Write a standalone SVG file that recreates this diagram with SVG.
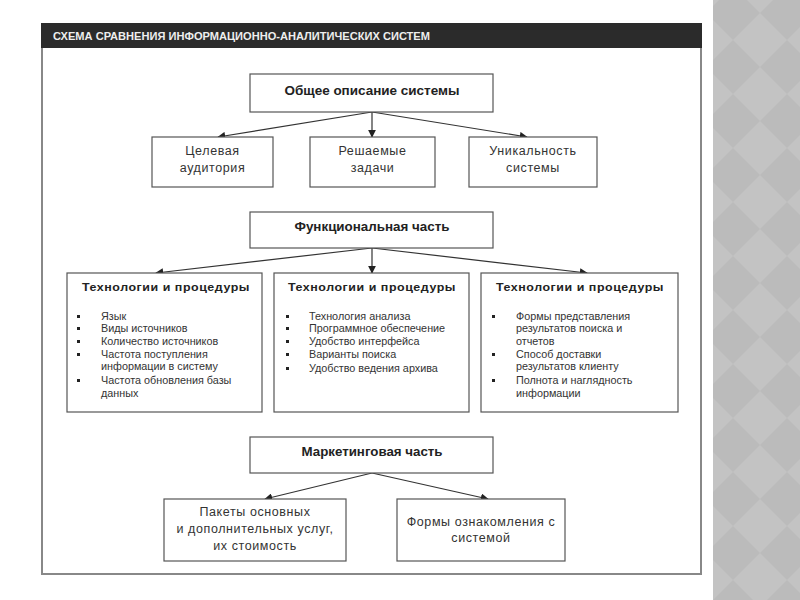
<svg xmlns="http://www.w3.org/2000/svg" width="800" height="600" viewBox="0 0 800 600">
<defs>
<pattern id="diam" x="706" y="-14" width="54" height="54" patternUnits="userSpaceOnUse">
<rect width="54" height="54" fill="#c3c3c3"/>
<polygon points="27,0 54,27 27,54 0,27" fill="#bbbbbb"/>
</pattern>
<marker id="ah" viewBox="0 0 10 10" refX="9" refY="5" markerWidth="8" markerHeight="8" markerUnits="userSpaceOnUse" orient="auto">
<path d="M0,0 L10,5 L0,10 z" fill="#222"/>
</marker>
<style>
.box{fill:#fff;stroke:#555;stroke-width:1.2}
.hd{font-family:"Liberation Sans",Arial,sans-serif;font-weight:bold;font-size:12px;fill:#222;text-anchor:middle}
.lb{font-family:"Liberation Sans",Arial,sans-serif;font-size:12.5px;fill:#333;text-anchor:middle;letter-spacing:0.6px}
.th{font-family:"Liberation Sans",Arial,sans-serif;font-weight:bold;font-size:11.5px;fill:#222;text-anchor:middle;letter-spacing:0.5px}
.it{font-family:"Liberation Sans",Arial,sans-serif;font-size:10.8px;fill:#333}
.bl{fill:#222}
.cn{stroke:#333;stroke-width:1.2;fill:none;marker-end:url(#ah)}
</style>
</defs>
<rect x="0" y="0" width="800" height="600" fill="#fff"/>
<rect x="713" y="0" width="87" height="600" fill="url(#diam)"/>
<g id="frame">
<rect x="42" y="24" width="659" height="550" fill="none" stroke="#888" stroke-width="2"/>
<rect x="41" y="23" width="661" height="25" fill="#2b2b2b"/>
<text x="53" y="40" font-family="'Liberation Sans',Arial,sans-serif" font-weight="bold" font-size="11.5" fill="#eee" textLength="377" lengthAdjust="spacingAndGlyphs">СХЕМА СРАВНЕНИЯ ИНФОРМАЦИОННО-АНАЛИТИЧЕСКИХ СИСТЕМ</text>
</g>
<g id="connectors">
<line class="cn" x1="372" y1="112" x2="218" y2="137"/>
<line class="cn" x1="372" y1="112" x2="372" y2="137"/>
<line class="cn" x1="372" y1="112" x2="527" y2="137"/>
<line class="cn" x1="372" y1="248" x2="156" y2="273"/>
<line class="cn" x1="372" y1="248" x2="372" y2="273"/>
<line class="cn" x1="372" y1="248" x2="587" y2="273"/>
<line class="cn" x1="372" y1="473" x2="265" y2="499"/>
<line class="cn" x1="372" y1="473" x2="488" y2="499"/>
</g>
<g id="general">
<rect class="box" x="250" y="74" width="243" height="38"/>
<text class="hd" x="372" y="95" textLength="175" lengthAdjust="spacingAndGlyphs">Общее описание системы</text>
</g>
<g id="audience">
<rect class="box" x="152" y="137" width="121" height="50"/>
<text class="lb" x="212.5" y="155">Целевая</text>
<text class="lb" x="212.5" y="172">аудитория</text>
</g>
<g id="tasks">
<rect class="box" x="310" y="137" width="125" height="50"/>
<text class="lb" x="372.5" y="155">Решаемые</text>
<text class="lb" x="372.5" y="172">задачи</text>
</g>
<g id="uniqueness">
<rect class="box" x="469" y="137" width="128" height="50"/>
<text class="lb" x="533" y="155">Уникальность</text>
<text class="lb" x="533" y="172">системы</text>
</g>
<g id="functional">
<rect class="box" x="250" y="212" width="243" height="36"/>
<text class="hd" x="372" y="231" textLength="155" lengthAdjust="spacingAndGlyphs">Функциональная часть</text>
</g>
<g id="tech1">
<rect class="box" x="67" y="273" width="195" height="139"/>
<text class="th" x="166" y="291" textLength="168" lengthAdjust="spacingAndGlyphs">Технологии и процедуры</text>
<rect class="bl" x="77" y="315" width="3" height="3"/>
<text class="it" x="101" y="320">Язык</text>
<rect class="bl" x="77" y="327" width="3" height="3"/>
<text class="it" x="101" y="332">Виды источников</text>
<rect class="bl" x="77" y="340" width="3" height="3"/>
<text class="it" x="101" y="345">Количество источников</text>
<rect class="bl" x="77" y="353" width="3" height="3"/>
<text class="it" x="101" y="358">Частота поступления</text>
<text class="it" x="101" y="370">информации в систему</text>
<rect class="bl" x="77" y="379" width="3" height="3"/>
<text class="it" x="101" y="384">Частота обновления базы</text>
<text class="it" x="101" y="397">данных</text>
</g>
<g id="tech2">
<rect class="box" x="274" y="273" width="195" height="139"/>
<text class="th" x="372" y="291" textLength="168" lengthAdjust="spacingAndGlyphs">Технологии и процедуры</text>
<rect class="bl" x="286" y="315" width="3" height="3"/>
<text class="it" x="309" y="320">Технология анализа</text>
<rect class="bl" x="286" y="327" width="3" height="3"/>
<text class="it" x="309" y="332">Программное обеспечение</text>
<rect class="bl" x="286" y="340" width="3" height="3"/>
<text class="it" x="309" y="345">Удобство интерфейса</text>
<rect class="bl" x="286" y="353" width="3" height="3"/>
<text class="it" x="309" y="358">Варианты поиска</text>
<rect class="bl" x="286" y="367" width="3" height="3"/>
<text class="it" x="309" y="372">Удобство ведения архива</text>
</g>
<g id="tech3">
<rect class="box" x="481" y="273" width="197" height="139"/>
<text class="th" x="580" y="291" textLength="168" lengthAdjust="spacingAndGlyphs">Технологии и процедуры</text>
<rect class="bl" x="492" y="315" width="3" height="3"/>
<text class="it" x="516" y="320">Формы представления</text>
<text class="it" x="516" y="332">результатов поиска и</text>
<text class="it" x="516" y="345">отчетов</text>
<rect class="bl" x="492" y="353" width="3" height="3"/>
<text class="it" x="516" y="358">Способ доставки</text>
<text class="it" x="516" y="370">результатов клиенту</text>
<rect class="bl" x="492" y="379" width="3" height="3"/>
<text class="it" x="516" y="384">Полнота и наглядность</text>
<text class="it" x="516" y="397">информации</text>
</g>
<g id="marketing">
<rect class="box" x="250" y="437" width="243" height="36"/>
<text class="hd" x="372" y="456" textLength="141" lengthAdjust="spacingAndGlyphs">Маркетинговая часть</text>
</g>
<g id="packages">
<rect class="box" x="164" y="499" width="182" height="62"/>
<text class="lb" x="255" y="516">Пакеты основных</text>
<text class="lb" x="255" y="533">и дополнительных услуг,</text>
<text class="lb" x="255" y="550">их стоимость</text>
</g>
<g id="familiarization">
<rect class="box" x="397" y="499" width="168" height="62"/>
<text class="lb" x="481" y="526">Формы ознакомления с</text>
<text class="lb" x="481" y="542">системой</text>
</g>
</svg>
